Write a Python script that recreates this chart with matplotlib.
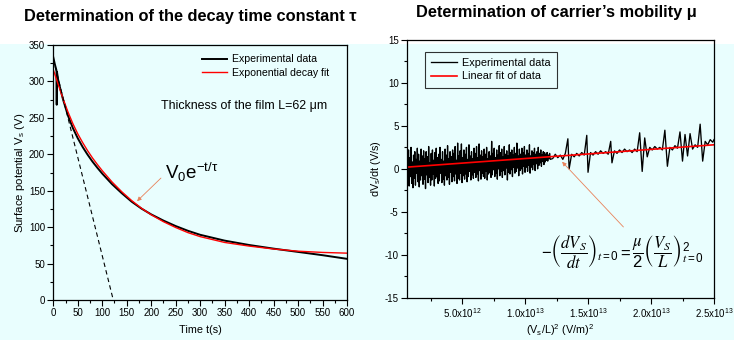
import matplotlib.pyplot as plt
from matplotlib.patches import Rectangle
from matplotlib.ticker import MultipleLocator, FixedLocator

plt.rcParams['font.family'] = ['Liberation Sans', 'DejaVu Sans']
plt.rcParams['mathtext.default'] = 'regular'
plt.rcParams['axes.unicode_minus'] = False

# ---- left panel: surface potential decay ----
t_exp = [0, 3, 6.5, 7, 7.5, 10, 15, 20, 30, 40, 50, 60, 70, 80, 90, 100, 120, 140, 160,
         180, 200, 225, 250, 275, 300, 350, 400, 450, 500, 550, 600]
v_exp = [333, 324, 315, 268, 313, 302, 288, 275, 253, 236, 222, 210, 199.5, 190, 181.5,
         173.5, 159, 146.5, 135, 125.5, 117.5, 109, 101.5, 95, 89.5, 81.5, 75.5, 70.5,
         66, 61.5, 56.5]
t_fit = [0, 10, 20, 30, 40, 50, 60, 70, 80, 90, 100, 120, 140, 160, 180, 200, 225, 250,
         275, 300, 350, 400, 450, 500, 550, 600]
v_fit = [316, 296, 276, 258, 242, 228, 216, 205, 195, 186, 177.5, 162, 148.5, 136.5, 126,
         117, 107.5, 99.5, 92.5, 87, 79, 74, 70, 67, 65.3, 64.3]
t_tan = [0, 122.5]
v_tan = [331, 0]

# ---- right panel: dVs/dt vs (Vs/L)^2, x in units of 1e12 (V/m)^2 ----
x_dense = [0.65, 0.70, 0.75, 0.80, 0.85, 0.90, 0.95, 1.00, 1.05, 1.10,
           1.15, 1.20, 1.25, 1.30, 1.35, 1.40, 1.45, 1.50, 1.55, 1.60,
           1.65, 1.70, 1.75, 1.80, 1.85, 1.90, 1.95, 2.00, 2.05, 2.10,
           2.15, 2.20, 2.25, 2.30, 2.35, 2.40, 2.45, 2.50, 2.55, 2.60,
           2.65, 2.70, 2.75, 2.80, 2.85, 2.90, 2.95, 3.00, 3.05, 3.10,
           3.15, 3.20, 3.25, 3.30, 3.35, 3.40, 3.45, 3.50, 3.55, 3.60,
           3.65, 3.70, 3.75, 3.80, 3.85, 3.90, 3.95, 4.00, 4.05, 4.10,
           4.15, 4.20, 4.25, 4.30, 4.35, 4.40, 4.45, 4.50, 4.55, 4.60,
           4.65, 4.70, 4.75, 4.80, 4.85, 4.90, 4.95, 5.00, 5.05, 5.10,
           5.15, 5.20, 5.25, 5.30, 5.35, 5.40, 5.45, 5.50, 5.55, 5.60,
           5.65, 5.70, 5.75, 5.80, 5.85, 5.90, 5.95, 6.00, 6.05, 6.10,
           6.15, 6.20, 6.25, 6.30, 6.35, 6.40, 6.45, 6.50, 6.55, 6.60,
           6.65, 6.70, 6.75, 6.80, 6.85, 6.90, 6.95, 7.00, 7.05, 7.10,
           7.15, 7.20, 7.25, 7.30, 7.35, 7.40, 7.45, 7.50, 7.55, 7.60,
           7.65, 7.70, 7.75, 7.80, 7.85, 7.90, 7.95, 8.00, 8.05, 8.10,
           8.15, 8.20, 8.25, 8.30, 8.35, 8.40, 8.45, 8.50, 8.55, 8.60,
           8.65, 8.70, 8.75, 8.80, 8.85, 8.90, 8.95, 9.00, 9.05, 9.10,
           9.15, 9.20, 9.25, 9.30, 9.35, 9.40, 9.45, 9.50, 9.55, 9.60,
           9.65, 9.70, 9.75, 9.80, 9.85, 9.90, 9.95, 10.00, 10.05, 10.10,
           10.15, 10.20, 10.25, 10.30, 10.35, 10.40, 10.45, 10.50, 10.55, 10.60,
           10.65, 10.70, 10.75, 10.80, 10.85, 10.90, 10.95, 11.00, 11.05, 11.10,
           11.15, 11.20, 11.25, 11.30, 11.35, 11.40, 11.45, 11.50, 11.55, 11.60,
           11.65, 11.70, 11.75, 11.80, 11.85, 11.90, 11.95, 12.00]
y_dense = [1.9, -1.4, 2.2, -2.0, 1.3, -0.9, 2.5, -1.7, 0.8, -2.2,
           1.6, -1.1, 2.0, -1.9, 1.1, -0.5, 2.4, -1.5, 1.7, -2.1,
           0.9, -1.3, 2.3, -0.8, 1.5, -1.8, 2.1, -1.2, 1.2, -2.3,
           2.0, -0.7, 1.4, -1.6, 2.6, -1.0, 0.7, -1.9, 1.8, -1.3,
           2.2, -0.6, 1.0, -2.0, 1.9, -1.1, 2.4, -0.9, 1.3, -1.7,
           1.7, -1.4, 2.5, -0.5, 1.1, -1.6, 2.0, -1.2, 0.9, -1.9,
           2.3, -0.8, 1.6, -1.3, 2.7, -1.0, 1.2, -1.8, 2.0, -0.4,
           1.4, -1.5, 2.2, -0.9, 1.8, -1.4, 2.6, -0.6, 1.0, -1.7,
           3.0, -1.1, 1.5, -1.3, 2.1, -0.5, 2.9, -1.6, 1.3, -0.8,
           2.2, -1.2, 1.7, -0.6, 2.5, -1.5, 1.1, -0.9, 2.8, -0.3,
           1.5, -1.3, 2.0, -0.7, 1.2, -1.1, 2.4, -0.4, 1.8, -1.0,
           2.6, -0.6, 1.3, -1.4, 2.9, -0.2, 1.6, -1.2, 2.1, -0.5,
           1.4, -0.9, 2.3, -1.1, 1.7, -0.3, 2.5, -1.3, 1.2, -0.6,
           2.0, -0.4, 1.5, -1.0, 3.2, -0.7, 1.8, -0.1, 2.4, -0.9,
           1.3, -0.5, 2.2, -1.2, 1.6, 0.0, 2.7, -0.8, 1.9, -0.3,
           2.3, -1.0, 1.4, -0.2, 2.6, -0.7, 1.7, 0.1, 2.1, -1.3,
           1.5, -0.4, 2.8, -0.6, 1.9, -0.1, 2.2, -0.9, 1.6, 0.2,
           2.5, -0.5, 1.8, -0.3, 3.0, 0.1, 1.5, -0.8, 2.3, -0.2,
           1.7, 0.0, 2.4, -0.6, 1.9, 0.3, 2.6, -0.4, 1.6, 0.2,
           2.2, -0.3, 1.8, 0.4, 2.8, -0.5, 1.5, 0.2, 2.1, -0.1,
           1.9, 0.5, 2.4, -0.2, 1.7, 0.6, 2.0, 0.0, 2.5, 0.4,
           1.8, 0.7, 2.2, 0.3, 1.6, 0.9, 2.0, 0.5, 1.9, 0.8,
           1.7, 1.0, 1.9, 0.9, 1.6, 1.2, 1.8, 1.1]
x_sparse = [12.2, 12.4, 12.6, 12.8, 13.0, 13.2, 13.4, 13.5, 13.7, 13.9, 14.1, 14.3, 14.5,
            14.7, 14.9, 15.0, 15.2, 15.4, 15.6, 15.8, 16.0, 16.2, 16.4, 16.6, 16.8, 16.9,
            17.1, 17.3, 17.5, 17.7, 17.9, 18.1, 18.3, 18.5, 18.7, 18.9, 19.1, 19.3, 19.5,
            19.7, 19.9, 20.1, 20.3, 20.5, 20.7, 20.9, 21.1, 21.3, 21.5, 21.7, 21.9, 22.1,
            22.3, 22.5, 22.7, 22.9, 23.1, 23.3, 23.5, 23.7, 23.9, 24.1, 24.3, 24.5, 24.7,
            24.9, 25.0]
y_sparse = [1.2, 1.7, 1.3, 1.6, 1.1, 1.8, 3.5, 0.0, 1.7, 1.4, 1.8, 1.5, 1.9,
            1.6, 3.9, -0.4, 1.9, 1.6, 2.0, 1.7, 2.1, 1.8, 2.0, 1.7, 3.2, 0.7,
            2.1, 1.8, 2.2, 1.9, 2.3, 2.0, 2.2, 1.9, 2.3, 2.0, 4.2, -0.3, 3.6,
            1.4, 2.5, 2.2, 2.6, 2.3, 2.5, 2.2, 4.5, 0.3, 2.5, 2.2, 2.7, 2.4,
            4.3, 0.9, 4.0, 1.5, 4.1, 2.3, 2.8, 2.5, 5.2, 0.9, 3.2, 2.8, 3.4,
            3.1, 3.4]
x_lin = [0.63, 25.0]
y_lin = [0.2, 2.8]
x_ticks = [5, 10, 15, 20, 25]
x_ticklabels = ['5.0x10$^{12}$', '1.0x10$^{13}$', '1.5x10$^{13}$', '2.0x10$^{13}$', '2.5x10$^{13}$']

fig = plt.figure(figsize=(7.34, 3.4), dpi=100)
fig.patches.append(Rectangle((0, 0), 1, 1 - 43.5 / 340, transform=fig.transFigure,
                             facecolor='#e9fefe', edgecolor='none', zorder=-10))

arrow_col = '#e8825a'

# left axes
ax1 = fig.add_axes([53.3 / 734, 1 - 300 / 340, 293.7 / 734, 255 / 340])
ax1.set_facecolor('none')
ax1.plot(t_exp, v_exp, color='black', lw=1.4, label='Experimental data')
ax1.plot(t_fit, v_fit, color='red', lw=1.0, label='Exponential decay fit')
ax1.plot(t_tan, v_tan, color='black', lw=0.8, ls=(0, (4, 3)))
ax1.set_xlim(0, 600)
ax1.set_ylim(0, 350)
ax1.xaxis.set_major_locator(MultipleLocator(50))
ax1.xaxis.set_minor_locator(MultipleLocator(25))
ax1.yaxis.set_major_locator(MultipleLocator(50))
ax1.yaxis.set_minor_locator(MultipleLocator(25))
ax1.set_xlabel('Time t(s)', fontsize=7.8, labelpad=5)
ax1.set_ylabel('Surface potential V$_s$ (V)', fontsize=8.2, labelpad=1)
ax1.legend(loc='upper right', frameon=False, fontsize=7.6, handlelength=2.4,
           handletextpad=0.4, borderaxespad=0.5, labelspacing=0.3,
           bbox_to_anchor=(0.97, 1.0))
ax1.text(0.932, 0.76, 'Thickness of the film L=62 μm', transform=ax1.transAxes,
         ha='right', va='center', fontsize=8.9)
ax1.annotate('', xy=(167, 133), xytext=(224, 170),
             arrowprops=dict(arrowstyle='-|>', color=arrow_col, lw=0.6,
                             mutation_scale=6))
ax1.text(229, 175, r'$V_0e^{-t/\tau}$', fontsize=13.5, ha='left', va='center')

# right axes
ax2 = fig.add_axes([407 / 734, 1 - 297.7 / 340, 307 / 734, 257.7 / 340])
ax2.set_facecolor('none')
ax2.plot(x_dense + x_sparse, y_dense + y_sparse, color='black', lw=0.95,
         label='Experimental data')
ax2.plot(x_lin, y_lin, color='red', lw=1.2, label='Linear fit of data')
ax2.set_xlim(0.63, 25.0)
ax2.set_ylim(-15, 15)
ax2.xaxis.set_major_locator(FixedLocator(x_ticks))
ax2.set_xticklabels(x_ticklabels)
ax2.xaxis.set_minor_locator(MultipleLocator(2.5))
ax2.yaxis.set_major_locator(MultipleLocator(5))
ax2.yaxis.set_minor_locator(MultipleLocator(2.5))
ax2.set_xlabel('(V$_s$/L)$^2$ (V/m)$^2$', fontsize=7.8, labelpad=2)
ax2.set_ylabel('dV$_s$/dt (V/s)', fontsize=7.8, labelpad=1)
leg = ax2.legend(loc='upper left', fontsize=7.8, handlelength=2.4, handletextpad=0.4,
                 labelspacing=0.3, fancybox=False, borderpad=0.6, borderaxespad=0.0,
                 bbox_to_anchor=(0.058, 0.955))
leg.get_frame().set_edgecolor('black')
leg.get_frame().set_linewidth(0.8)
leg.get_frame().set_facecolor('none')
ax2.annotate('', xy=(12.79, 1.06), xytext=(17.96, -7.0),
             arrowprops=dict(arrowstyle='-|>', color=arrow_col, lw=0.6,
                             mutation_scale=6))
ax2.text(0.70, 0.177,
         r'$-\left(\dfrac{\mathit{dV}_\mathit{S}}{\mathit{dt}}\right)_{\mathit{t}=0}'
         r'=\dfrac{\mathit{\mu}}{2}\left(\dfrac{\mathit{V}_\mathit{S}}{\mathit{L}}\right)_{\mathit{t}=0}^{2}$',
         transform=ax2.transAxes, ha='center', va='center', fontsize=12,
         math_fontfamily='stix')

for ax in (ax1, ax2):
    ax.tick_params(which='both', direction='out', top=False, right=False,
                   labelsize=7, width=0.8)
    ax.tick_params(which='major', length=4, pad=2)
    ax.tick_params(which='minor', length=2)
    for s in ax.spines.values():
        s.set_linewidth(0.9)

fig.text(190 / 734, 1 - 17 / 340, 'Determination of the decay time constant τ',
         ha='center', va='center', fontsize=11.8, fontweight='bold')
fig.text(556 / 734, 1 - 13 / 340, 'Determination of carrier’s mobility μ',
         ha='center', va='center', fontsize=11.8, fontweight='bold')

fig.savefig('out.png', dpi=100)
